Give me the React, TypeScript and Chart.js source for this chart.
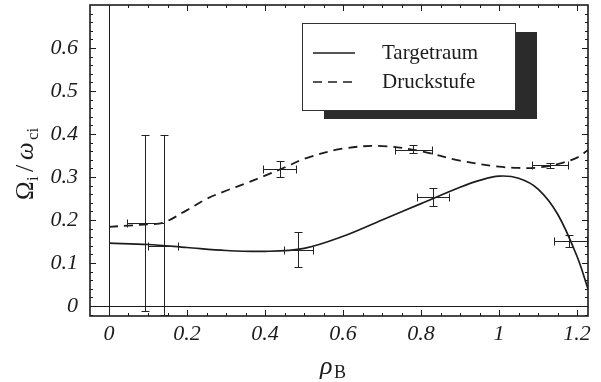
import React, { useEffect, useRef } from "react";
import { Chart, registerables } from "chart.js";

Chart.register(...registerables);

// ---- data ----
const solidX = [0, 0.1, 0.2, 0.3, 0.4, 0.5, 0.6, 0.7, 0.8, 0.9, 0.95, 1.0, 1.05, 1.1, 1.15, 1.2, 1.228];
const solidY = [0.146, 0.143, 0.136, 0.129, 0.127, 0.134, 0.162, 0.2, 0.238, 0.276, 0.292, 0.302, 0.297, 0.272, 0.214, 0.115, 0.04];

const dashedX = [0, 0.05, 0.1, 0.14, 0.2, 0.25, 0.3, 0.35, 0.4, 0.45, 0.5, 0.6, 0.7, 0.8, 0.9, 1.0, 1.05, 1.1, 1.15, 1.2, 1.228];
const dashedY = [0.184, 0.187, 0.19, 0.194, 0.223, 0.249, 0.268, 0.285, 0.303, 0.322, 0.342, 0.366, 0.372, 0.36, 0.338, 0.324, 0.321, 0.322, 0.33, 0.345, 0.363];

// error bars: Targetraum
const solidErrX = [0.14, 0.485, 0.83, 1.18];
const solidErrY = [0.14, 0.13, 0.253, 0.15];
const solidErrXLo = [0.1, 0.449, 0.79, 1.14];
const solidErrXHi = [0.177, 0.523, 0.872, 1.226];
const solidErrYLo = [0.14, 0.09, 0.232, 0.137];
const solidErrYHi = [0.14, 0.172, 0.274, 0.165];

// error bars: Druckstufe
const dashedErrX = [0.092, 0.141, 0.438, 0.779, 1.13];
const dashedErrY = [0.192, 0.194, 0.318, 0.363, 0.327];
const dashedErrXLo = [0.045, 0.141, 0.394, 0.733, 1.085];
const dashedErrXHi = [0.141, 0.141, 0.48, 0.828, 1.177];
const dashedErrYLo = [-0.012, -0.023, 0.3, 0.355, 0.322];
const dashedErrYHi = [0.398, 0.397, 0.337, 0.374, 0.333];

const xTickVals = [0, 0.2, 0.4, 0.6, 0.8, 1.0, 1.2];
const yTickVals = [0, 0.1, 0.2, 0.3, 0.4, 0.5, 0.6];
const seriesNames = ["Targetraum", "Druckstufe"];

const SERIF = "'Liberation Serif', 'Times New Roman', serif";
const INK = "#1c1c1c";

const fmt = (v: number) => String(Math.round(v * 10) / 10);
const crisp = (v: number) => Math.round(v) + 0.5;

const decorPlugin = {
  id: "decor",
  beforeDatasetsDraw(chart: any) {
    const { ctx, chartArea: a, scales } = chart;
    const x = scales.x, y = scales.y;
    ctx.save();
    ctx.strokeStyle = INK;
    ctx.lineWidth = 1;
    const x0 = crisp(x.getPixelForValue(0));
    const y0 = crisp(y.getPixelForValue(0));
    ctx.beginPath();
    ctx.moveTo(x0, a.top); ctx.lineTo(x0, a.bottom);
    ctx.moveTo(a.left, y0); ctx.lineTo(a.right, y0);
    ctx.stroke();
    ctx.lineWidth = 1.6;
    ctx.strokeRect(a.left, a.top, a.right - a.left, a.bottom - a.top);
    ctx.lineWidth = 1;
    ctx.beginPath();
    for (let k = -2; k <= 26; k++) {
      const v = k * 0.05;
      if (v < x.min || v > x.max) continue;
      const px = crisp(x.getPixelForValue(v));
      const len = k % 4 === 0 ? 6 : 3;
      ctx.moveTo(px, a.bottom); ctx.lineTo(px, a.bottom - len);
      ctx.moveTo(px, a.top); ctx.lineTo(px, a.top + len);
    }
    for (let k = -2; k <= 36; k++) {
      const v = k * 0.02;
      if (v < y.min || v > y.max) continue;
      const py = crisp(y.getPixelForValue(v));
      const len = k % 5 === 0 ? 6 : 3;
      ctx.moveTo(a.left, py); ctx.lineTo(a.left + len, py);
      ctx.moveTo(a.right, py); ctx.lineTo(a.right - len, py);
    }
    ctx.stroke();
    ctx.restore();
  },
  afterDatasetsDraw(chart: any) {
    const { ctx, chartArea: a, scales } = chart;
    const x = scales.x, y = scales.y;
    ctx.save();
    ctx.strokeStyle = "#222";
    ctx.lineWidth = 1;
    const cap = 4;
    const drawErr = (cx: number[], cy: number[], xl: number[], xh: number[], yl: number[], yh: number[]) => {
      ctx.beginPath();
      for (let i = 0; i < cx.length; i++) {
        const px = crisp(x.getPixelForValue(cx[i]));
        const py = crisp(y.getPixelForValue(cy[i]));
        const pxl = crisp(x.getPixelForValue(xl[i]));
        const pxh = crisp(x.getPixelForValue(xh[i]));
        const pyl = crisp(Math.min(y.getPixelForValue(yl[i]), a.bottom - 1));
        const pyh = crisp(y.getPixelForValue(yh[i]));
        if (xh[i] > xl[i]) {
          ctx.moveTo(pxl, py); ctx.lineTo(pxh, py);
          ctx.moveTo(pxl, py - cap); ctx.lineTo(pxl, py + cap);
          ctx.moveTo(pxh, py - cap); ctx.lineTo(pxh, py + cap);
        }
        if (yh[i] > yl[i]) {
          ctx.moveTo(px, pyl); ctx.lineTo(px, pyh);
          ctx.moveTo(px - cap, pyh); ctx.lineTo(px + cap, pyh);
          ctx.moveTo(px - cap, pyl); ctx.lineTo(px + cap, pyl);
        }
      }
      ctx.stroke();
    };
    drawErr(solidErrX, solidErrY, solidErrXLo, solidErrXHi, solidErrYLo, solidErrYHi);
    drawErr(dashedErrX, dashedErrY, dashedErrXLo, dashedErrXHi, dashedErrYLo, dashedErrYHi);

    // legend with drop shadow
    const bx = a.left + 212, by = a.top + 18, bw = 213, bh = 87;
    ctx.fillStyle = "#2b2b2b";
    ctx.fillRect(bx + 22, by + 9, bw, bh);
    ctx.fillStyle = "#ffffff";
    ctx.fillRect(bx, by, bw, bh);
    ctx.strokeStyle = "#333";
    ctx.lineWidth = 1;
    ctx.strokeRect(bx + 0.5, by + 0.5, bw, bh);
    const rows = [by + 30, by + 59];
    ctx.strokeStyle = INK;
    ctx.lineWidth = 1.6;
    ctx.beginPath();
    ctx.moveTo(bx + 11, rows[0]); ctx.lineTo(bx + 53, rows[0]);
    ctx.stroke();
    ctx.setLineDash([9, 6]);
    ctx.beginPath();
    ctx.moveTo(bx + 11, rows[1]); ctx.lineTo(bx + 53, rows[1]);
    ctx.stroke();
    ctx.setLineDash([]);
    ctx.fillStyle = INK;
    ctx.font = `21px ${SERIF}`;
    ctx.textBaseline = "middle";
    ctx.textAlign = "left";
    ctx.fillText(seriesNames[0], bx + 80, rows[0]);
    ctx.fillText(seriesNames[1], bx + 80, rows[1]);

    // x axis title  ρ_B
    ctx.textBaseline = "alphabetic";
    ctx.font = `italic 26px ${SERIF}`;
    ctx.fillText("ρ", 320, 374);
    ctx.font = `18px ${SERIF}`;
    ctx.fillText("B", 334, 378);

    // y axis title  Ω_i/ω_ci  (rotated)
    ctx.translate(33, 200);
    ctx.rotate(-Math.PI / 2);
    ctx.font = `25px ${SERIF}`;
    ctx.fillText("Ω", 0, 0);
    ctx.font = `17px ${SERIF}`;
    ctx.fillText("i", 19, 5);
    ctx.font = `26px ${SERIF}`;
    ctx.fillText("/", 28, 0);
    ctx.font = `italic 25px ${SERIF}`;
    ctx.fillText("ω", 40, 0);
    ctx.font = `17px ${SERIF}`;
    ctx.fillText("ci", 60, 5);
    ctx.restore();
  },
};

export default function App() {
  const ref = useRef<HTMLCanvasElement | null>(null);
  useEffect(() => {
    if (!ref.current) return;
    const chart = new Chart(ref.current, {
      type: "line",
      data: {
        datasets: [
          {
            label: seriesNames[0],
            data: solidX.map((v, i) => ({ x: v, y: solidY[i] })),
            borderColor: INK,
            borderWidth: 1.7,
            pointRadius: 0,
            tension: 0.35,
            fill: false,
          },
          {
            label: seriesNames[1],
            data: dashedX.map((v, i) => ({ x: v, y: dashedY[i] })),
            borderColor: INK,
            borderWidth: 1.8,
            borderDash: [9, 6],
            pointRadius: 0,
            tension: 0.35,
            fill: false,
          },
        ],
      },
      options: {
        responsive: false,
        animation: false,
        events: [],
        layout: { padding: { top: 5, right: 13, left: 0, bottom: 0 } },
        plugins: { legend: { display: false }, tooltip: { enabled: false } },
        scales: {
          x: {
            type: "linear",
            min: -0.0487,
            max: 1.228,
            grid: { display: false, drawTicks: false, tickLength: 0 },
            border: { display: false },
            afterBuildTicks: (s: any) => { s.ticks = xTickVals.map((v) => ({ value: v })); },
            afterFit: (s: any) => { s.height = 66; s.paddingLeft = 0; s.paddingRight = 0; },
            ticks: {
              autoSkip: false,
              maxRotation: 0,
              padding: 5,
              color: INK,
              font: { family: SERIF, style: "italic", size: 22 },
              callback: (v: any) => fmt(Number(v)),
            },
          },
          y: {
            type: "linear",
            min: -0.0233,
            max: 0.7,
            grid: { display: false, drawTicks: false, tickLength: 0 },
            border: { display: false },
            afterBuildTicks: (s: any) => { s.ticks = yTickVals.map((v) => ({ value: v })); },
            afterFit: (s: any) => { s.width = 90; s.paddingTop = 0; s.paddingBottom = 0; },
            ticks: {
              autoSkip: false,
              padding: 12,
              color: INK,
              font: { family: SERIF, style: "italic", size: 22 },
              callback: (v: any) => fmt(Number(v)),
            },
          },
        },
      },
      plugins: [decorPlugin],
    } as any);
    let alive = true;
    const fonts = (document as any).fonts;
    if (fonts && fonts.ready) {
      fonts.ready.then(() => { if (alive) chart.update("none"); });
    }
    return () => { alive = false; chart.destroy(); };
  }, []);
  return (
    <div style={{ position: "absolute", left: 0, top: 0, width: 601, height: 382, background: "#fff", overflow: "hidden" }}>
      <canvas ref={ref} width={601} height={382} style={{ display: "block" }} />
    </div>
  );
}
